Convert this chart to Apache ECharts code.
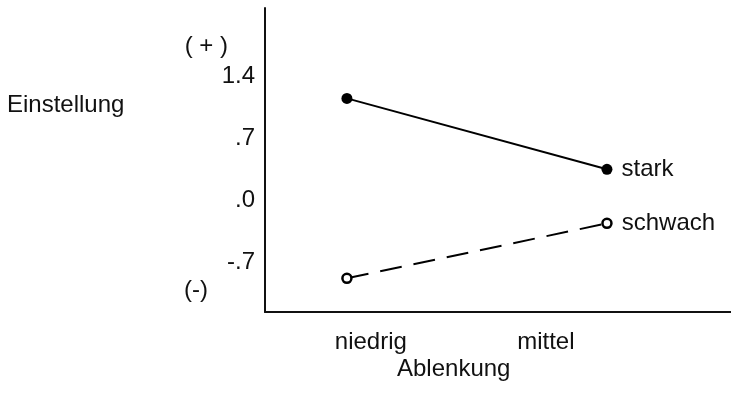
<!DOCTYPE html>
<html><head><meta charset="utf-8">
<script src="https://cdn.jsdelivr.net/npm/echarts@6/dist/echarts.min.js"></script>
<style>html,body{margin:0;padding:0;background:#fff}#c{width:731px;height:396px}</style>
</head><body><div id="c"></div>
<script>
const categories = ['niedrig', 'mittel'];
const categoryX = [1, 2];
const categoryLabelX = [1.092, 1.765];
const stark = [1.15, 0.35];
const schwach = [-0.88, -0.26];
const yTickValues = [-1.02, -0.7, 0, 0.7, 1.4, 1.74];
const yTickLabels = ['(-)', '-.7', '.0', '.7', '1.4', '( + )'];
const seriesNames = ['stark', 'schwach'];

const font = 'Liberation Sans';
const fs = 24;
const chart = echarts.init(document.getElementById('c'));
function pairs(vals){ return vals.map((v,i)=>[categoryX[i], v]); }
chart.setOption({
  animation: false,
  backgroundColor: '#fff',
  grid: {left: 265, right: 0, top: 8, bottom: 84, containLabel: false},
  xAxis: {
    type: 'value', min: 0.685, max: 2.477,
    axisLine: {show: true, onZero: false, lineStyle: {color: '#111', width: 2}},
    axisTick: {show: false},
    splitLine: {show: false},
    axisLabel: {
      customValues: categoryLabelX, margin: 18, color: '#111',
      fontFamily: font, fontSize: fs,
      formatter: v => { const i = categoryLabelX.indexOf(v); return i >= 0 ? categories[i] : ''; }
    }
  },
  yAxis: {
    type: 'value', min: -1.26, max: 2.17,
    axisLine: {show: true, onZero: false, lineStyle: {color: '#111', width: 2}},
    axisTick: {show: false},
    splitLine: {show: false},
    axisLabel: {
      customValues: yTickValues, margin: 10, color: '#111',
      fontFamily: font, fontSize: fs,
      formatter: v => {
        const i = yTickValues.indexOf(v); const t = i >= 0 ? yTickLabels[i] : '';
        if (t === '( + )') return '{p|' + t + '}';
        if (t === '(-)') return '{m|' + t + '}';
        return t;
      },
      rich: {
        p: {fontFamily: font, fontSize: fs, color: '#111', padding: [0, 27, 0, 0]},
        m: {fontFamily: font, fontSize: fs, color: '#111', padding: [0, 47, 0, 0]}
      }
    }
  },
  series: [
    {
      name: seriesNames[0], type: 'line', data: pairs(stark),
      symbol: 'circle', symbolSize: 11,
      itemStyle: {color: '#000'},
      lineStyle: {color: '#000', width: 2},
      label: {show: true, position: 'right', distance: 9, color: '#111', fontFamily: font, fontSize: fs,
        formatter: p => p.dataIndex === 1 ? seriesNames[0] : ''}
    },
    {
      name: seriesNames[1], type: 'line', data: pairs(schwach),
      symbol: 'circle', symbolSize: 9,
      itemStyle: {color: '#fff', borderColor: '#000', borderWidth: 2.5},
      lineStyle: {color: '#000', width: 2, type: [22, 12]},
      label: {show: true, position: 'right', distance: 9, color: '#111', fontFamily: font, fontSize: fs,
        formatter: p => p.dataIndex === 1 ? seriesNames[1] : ''}
    }
  ],
  graphic: [
    {type: 'text', left: 7, top: 93, style: {text: 'Einstellung', fontFamily: font, fontSize: fs, fill: '#111'}},
    {type: 'text', left: 397, top: 357, style: {text: 'Ablenkung', fontFamily: font, fontSize: fs, fill: '#111'}}
  ]
});
</script></body></html>
